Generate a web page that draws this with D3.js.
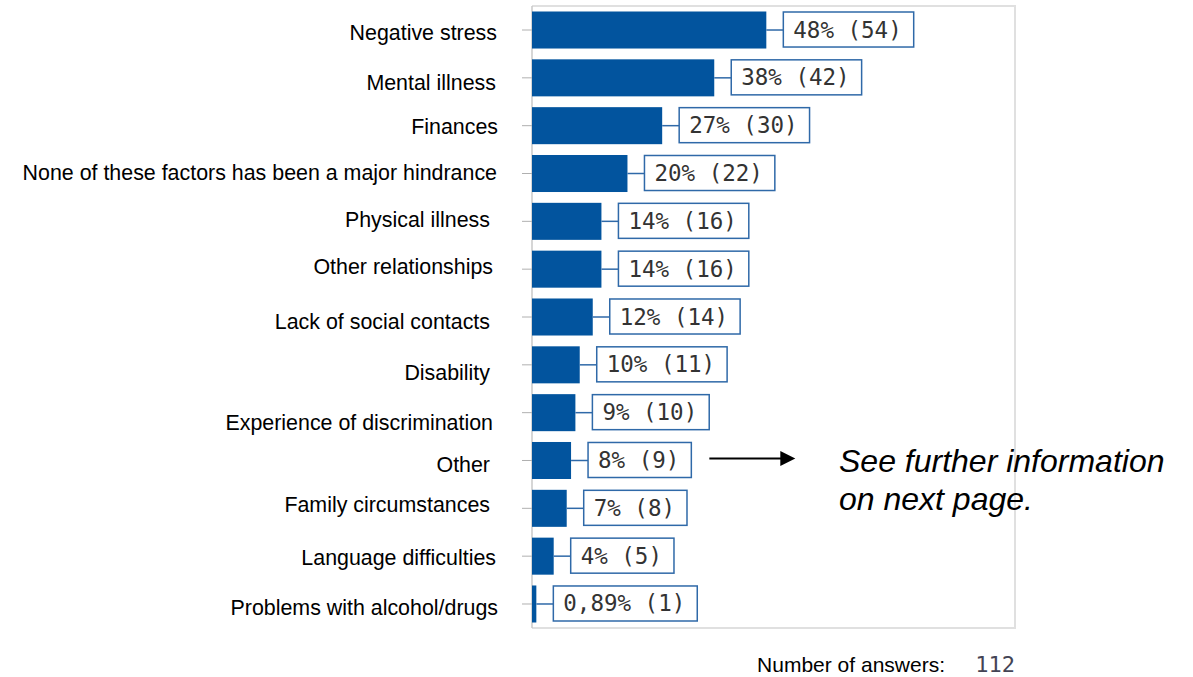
<!DOCTYPE html>
<html>
<head>
<meta charset="utf-8">
<script src="https://cdn.jsdelivr.net/npm/d3@7"></script>
<style>
  body { margin: 0; background: #fff; }
  svg { display: block; }
</style>
</head>
<body>
<div id="chart"></div>
<script>
// data
const categories = [
    "Negative stress",
    "Mental illness",
    "Finances",
    "None of these factors has been a major hindrance",
    "Physical illness",
    "Other relationships",
    "Lack of social contacts",
    "Disability",
    "Experience of discrimination",
    "Other",
    "Family circumstances",
    "Language difficulties",
    "Problems with alcohol/drugs"
];
const counts = [54, 42, 30, 22, 16, 16, 14, 11, 10, 9, 8, 5, 1];
const percents = [48, 38, 27, 20, 14, 14, 12, 10, 9, 8, 7, 4, 0.89];
const totalAnswers = 112;
const noteCategory = "Other";
const noteLines = ["See further information", "on next page."];

// small layout nudges for the category labels (they sit a bit uneven in the original)
const labelDx = [0, -1, 1, 0, -7, -4, -7, -7, -4, -7, -7, -1, 1];
const labelDy = [2, 4.5, 1, -1, -2, -3, 4, 8, 10, 4, -4, 1, 4];

const width = 1193;
const height = 677;
const plot = { left: 532, right: 1017, top: 6, bottom: 628 };

const blue = "#02549e";
const boxBlue = "#2f69a8";

const svg = d3.select("#chart")
    .append("svg")
    .attr("width", width)
    .attr("height", height);

const x = d3.scaleLinear()
    .domain([0, 100])
    .range([plot.left, plot.right + 1]);

const y = d3.scaleBand()
    .domain(categories)
    .range([plot.top, plot.bottom])
    .paddingInner(0.226)
    .paddingOuter(0.115);

const rows = categories.map((c, i) => ({
    cat: c,
    count: counts[i],
    pct: percents[i],
    share: counts[i] / totalAnswers * 100,
    dx: labelDx[i],
    dy: labelDy[i]
}));

// frame
svg.append("path")
    .attr("d", `M${plot.left},${plot.top}H${plot.right - 2}V${plot.bottom}H${plot.left}`)
    .attr("fill", "none")
    .attr("stroke", "#e0e0e0")
    .attr("stroke-width", 2);

svg.append("line")
    .attr("x1", plot.left).attr("x2", plot.left)
    .attr("y1", plot.top).attr("y2", plot.bottom)
    .attr("stroke", "#c8c8c8")
    .attr("stroke-width", 1.5);

// left ticks
svg.selectAll("line.tick")
    .data(rows)
    .join("line")
    .attr("class", "tick")
    .attr("x1", plot.left - 10).attr("x2", plot.left)
    .attr("y1", d => y(d.cat) + y.bandwidth() / 2)
    .attr("y2", d => y(d.cat) + y.bandwidth() / 2)
    .attr("stroke", "#b0b0b0")
    .attr("stroke-width", 1);

// bars
svg.selectAll("rect.bar")
    .data(rows)
    .join("rect")
    .attr("class", "bar")
    .attr("x", x(0))
    .attr("y", d => y(d.cat))
    .attr("width", d => x(d.share) - x(0))
    .attr("height", y.bandwidth())
    .attr("fill", blue);

// category labels
svg.selectAll("text.cat")
    .data(rows)
    .join("text")
    .attr("class", "cat")
    .attr("x", d => 497 + d.dx)
    .attr("y", d => y(d.cat) + y.bandwidth() / 2 + 7.5 + d.dy)
    .attr("text-anchor", "end")
    .style("font-family", "'Liberation Sans', Arial, sans-serif")
    .style("font-size", "21.4px")
    .attr("fill", "#000")
    .text(d => d.cat);

// value boxes
function fmt(d) {
    const p = d.pct < 1 ? d.pct.toFixed(2).replace(".", ",") : d3.format("d")(d.pct);
    return `${p}% (${d.count})`;
}

const gap = 17;
const valueGroups = svg.selectAll("g.value")
    .data(rows)
    .join("g")
    .attr("class", "value");

valueGroups.append("line")
    .attr("x1", d => x(d.share))
    .attr("x2", d => x(d.share) + gap)
    .attr("y1", d => y(d.cat) + y.bandwidth() / 2)
    .attr("y2", d => y(d.cat) + y.bandwidth() / 2)
    .attr("stroke", boxBlue)
    .attr("stroke-width", 1.5);

const boxRects = valueGroups.append("rect")
    .attr("x", d => x(d.share) + gap)
    .attr("y", d => y(d.cat) + 0.5)
    .attr("height", y.bandwidth() - 2)
    .attr("fill", "#fff")
    .attr("stroke", boxBlue)
    .attr("stroke-width", 1.5);

const valueTexts = valueGroups.append("text")
    .attr("x", d => x(d.share) + gap + 10)
    .attr("y", d => y(d.cat) + y.bandwidth() / 2 + 7.5)
    .style("font-family", "'DejaVu Sans Mono', monospace")
    .style("font-size", "22.5px")
    .attr("fill", "#333")
    .text(fmt);

const boxRight = {};
valueTexts.each(function (d) {
    const w = this.getComputedTextLength();
    boxRight[d.cat] = x(d.share) + gap + w + 22;
});
boxRects.attr("width", d => boxRight[d.cat] - (x(d.share) + gap));

// arrow + note
const noteY = y(noteCategory) + y.bandwidth() / 2 - 2;
const arrowStart = boxRight[noteCategory] + 18;
svg.append("line")
    .attr("x1", arrowStart).attr("x2", arrowStart + 74)
    .attr("y1", noteY).attr("y2", noteY)
    .attr("stroke", "#000")
    .attr("stroke-width", 2);
svg.append("path")
    .attr("d", `M${arrowStart + 71},${noteY - 7.5}L${arrowStart + 86},${noteY}L${arrowStart + 71},${noteY + 7.5}Z`)
    .attr("fill", "#000");

svg.selectAll("text.note")
    .data(noteLines)
    .join("text")
    .attr("class", "note")
    .attr("x", 839)
    .attr("y", (d, i) => noteY + 14 + i * 38)
    .style("font-family", "'Liberation Sans', Arial, sans-serif")
    .style("font-size", "32px")
    .style("font-style", "italic")
    .attr("fill", "#000")
    .text(d => d);

// footer
svg.append("text")
    .attr("x", 945)
    .attr("y", 672)
    .attr("text-anchor", "end")
    .style("font-family", "'Liberation Sans', Arial, sans-serif")
    .style("font-size", "21px")
    .attr("fill", "#000")
    .text("Number of answers:");

svg.append("text")
    .attr("x", plot.right - 2)
    .attr("y", 672)
    .attr("text-anchor", "end")
    .style("font-family", "'DejaVu Sans Mono', monospace")
    .style("font-size", "22px")
    .attr("fill", "#444455")
    .text(totalAnswers);
</script>
</body>
</html>
